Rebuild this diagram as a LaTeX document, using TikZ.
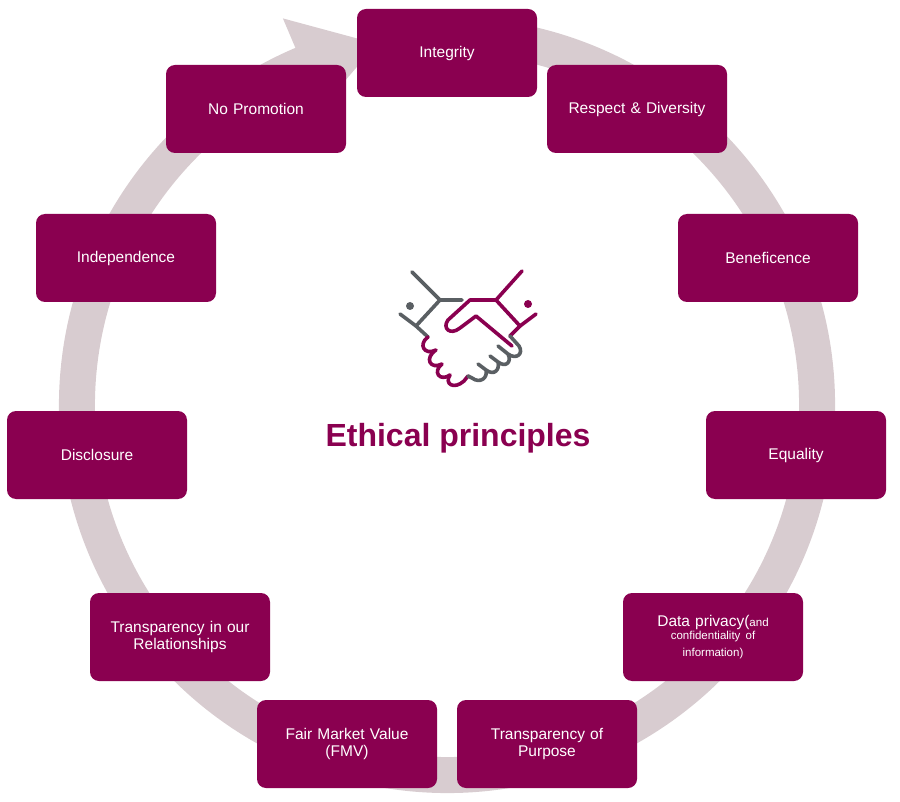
\documentclass[tikz,border=0pt]{standalone}
\usepackage{fontspec}
\setmainfont{Liberation Sans}
\usetikzlibrary{calc}
\definecolor{mar}{HTML}{8A0050}
\definecolor{ringc}{HTML}{D8CCD0}
\definecolor{icg}{HTML}{5A5F63}
\begin{document}
\begin{tikzpicture}[x=1pt,y=-1pt,
  box/.style={fill=mar,rounded corners=9pt,minimum width=180pt,minimum height=88pt,inner sep=0pt,text=white,font=\fontsize{15.5}{17.5}\selectfont,align=center,text width=174pt},
  ico/.style={line width=3.6pt,line cap=round,line join=round}]
\useasboundingbox (0,0) rectangle (900,802);
\coordinate (c) at (447,405);
\draw[ringc,line width=36pt] (c) ++(-80:370) arc[start angle=-80,end angle=247.5,radius=370];
\fill[ringc] ($(c)+(247:322)$) -- ($(c)+(247:420)$) -- ($(c)+(259:368)$) -- cycle;
\node[box] (n1) at (447,53) {Integrity};
\node[box] (n2) at (637,109) {Respect \& Diversity};
\node[box] (n3) at (768,258) {Beneficence};
\node[box] (n4) at (796,455) {Equality};
\node[box] (n5) at (713,637) {Data privacy(\fontsize{11.5}{13}\selectfont and\\ confidentiality of\\ information)};
\node[box] (n6) at (547,744) {Transparency of\\Purpose};
\node[box] (n7) at (347,744) {Fair Market Value\\(FMV)};
\node[box] (n8) at (180,637) {Transparency in our\\Relationships};
\node[box] (n9) at (97,455) {Disclosure};
\node[box] (n10) at (126,258) {Independence};
\node[box] (n11) at (256,109) {No Promotion};
\node[text=mar,font=\bfseries\fontsize{32}{36}\selectfont] (t) at (458,438) {Ethical principles};
% handshake icon
\draw[ico,icg] (412,272) -- (440,300) -- (462,300);
\draw[ico,icg] (440,300) -- (416,326) -- (400,314);
\draw[ico,icg] (416,326) -- (428,337);
\fill[icg] (410,306) circle (4pt);
\draw[ico,mar] (522,271) -- (496,300) -- (470,300) -- (448,320) .. controls (442,328) and (450,336) .. (460,328) -- (476,316) -- (512,346);
\draw[ico,mar] (496,300) -- (520,326) -- (536,314);
\draw[ico,mar] (520,326) -- (510,336);
\fill[mar] (528,304) circle (4pt);
\draw[ico,mar] (428,337) .. controls (418,344) and (424,356) .. (436,350) .. controls (424,358) and (430,370) .. (442,364) .. controls (432,372) and (440,382) .. (450,375) .. controls (444,384) and (454,390) .. (464,381) -- (468,376);
\draw[ico,icg] (510,336) -- (519,346) .. controls (524,354) and (516,360) .. (508,354) -- (498,346) (508,354) .. controls (512,362) and (506,368) .. (498,362) -- (490,356) (498,362) .. controls (500,370) and (494,376) .. (486,370) -- (478,364) (486,370) .. controls (488,378) and (480,384) .. (472,378) -- (468,376);
\end{tikzpicture}
\end{document}
